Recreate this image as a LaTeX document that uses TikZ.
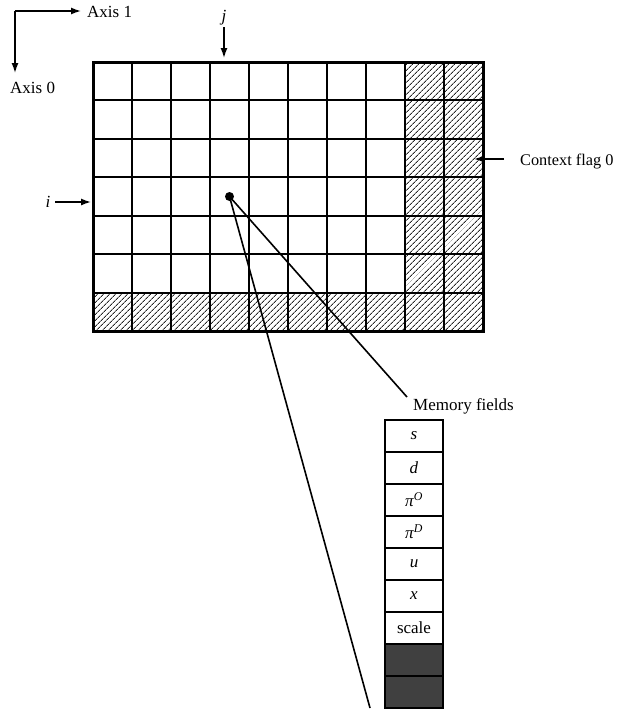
\documentclass[tikz,border=0pt]{standalone}
\usepackage{fontspec}
\setmainfont{Liberation Serif}
\usetikzlibrary{arrows.meta, positioning, patterns.meta}

\tikzset{
  lbl/.style={font=\fontsize{17}{20}\selectfont, inner sep=0pt},
  ptr/.style={-{Latex[length=10pt,width=7pt]}, line width=1.4pt},
  hatch/.style={pattern={Lines[angle=45,distance=4pt,line width=0.9pt]}, pattern color=black!85},
  field/.style={draw, line width=1.6pt, minimum width=58pt, minimum height=32pt,
    inner sep=0pt, outer sep=0pt, font=\fontsize{17}{20}\selectfont},
}

\begin{document}
\begin{tikzpicture}[x=1pt, y=-1pt]
  \useasboundingbox (0,0) rectangle (618,710);
  % Array: 10 columns x 7 rows, top-left at (93,62), cell 39 x 38.43
  \def\cw{39}
  \def\rh{38.43}
  \coordinate (nw) at (93,62);
  \coordinate (se) at (483,331);
  % Context cells (hatched): last two columns and last row
  \fill[hatch] (93+8*\cw,62) rectangle (se);
  \fill[hatch] (93,62+6*\rh) rectangle (93+8*\cw,331);
  % Inner lines
  \foreach \c in {1,...,9} {
    \draw[line width=2pt] (93+\c*\cw,62) -- (93+\c*\cw,331);
  }
  \foreach \r in {1,...,6} {
    \draw[line width=2pt] (93,62+\r*\rh) -- (483,62+\r*\rh);
  }
  \draw[line width=3pt] (nw) rectangle (se);

  % Cell (i,j) = (3,3)
  \coordinate (cell) at (93+3.5*\cw,62+3.5*\rh);
  \fill (cell) circle (4.5pt);

  % Axes
  \coordinate (ax) at (15,11);
  \node[lbl, anchor=base west] (axis1) at (87,17) {Axis 1};
  \node[lbl, anchor=base west] (axis0) at (10,93) {Axis 0};
  \draw[ptr] (ax) -- (81,11) coordinate (ax1tip);
  \draw[ptr] (ax) -- (15,73) coordinate (ax0tip);

  % Index pointers
  \node[lbl, anchor=base] (jlab) at (224,21) {\textit{j}};
  \draw[ptr] (224,27) -- (224,58) coordinate (jtip);
  \node[lbl, anchor=base] (ilab) at (48,207) {\textit{i}};
  \draw[ptr] (55,202) -- (91,202) coordinate (itip);

  % Context flag
  \node[lbl, anchor=base west, font=\fontsize{16.3}{20}\selectfont] (ctx) at (520,165) {Context flag 0};
  \draw[ptr] (504,159) -- (474,159) coordinate (ctxtip);

  % Memory fields of the cell
  \node[lbl, anchor=base west] (memlab) at (413,410) {Memory fields};
  \node[field] (f1) at (414,436) {\textit{s}};
  \node[field, below=0pt of f1] (f2) {\textit{d}};
  \node[field, below=0pt of f2] (f3) {\textit{π}\textsuperscript{\textit{O}}};
  \node[field, below=0pt of f3] (f4) {\textit{π}\textsuperscript{\textit{D}}};
  \node[field, below=0pt of f4] (f5) {\textit{u}};
  \node[field, below=0pt of f5] (f6) {\textit{x}};
  \node[field, below=0pt of f6] (f7) {scale};
  \node[field, below=0pt of f7, fill=black!75] (f8) {};
  \node[field, below=0pt of f8, fill=black!75] (f9) {};

  % Leader lines from the cell
  \coordinate (memtip) at (407,397);
  \coordinate (bot) at (370,708);
  \draw[line width=1.6pt] (cell) -- (memtip);
  \draw[line width=1.6pt] (cell) -- (bot);
\end{tikzpicture}
\end{document}
